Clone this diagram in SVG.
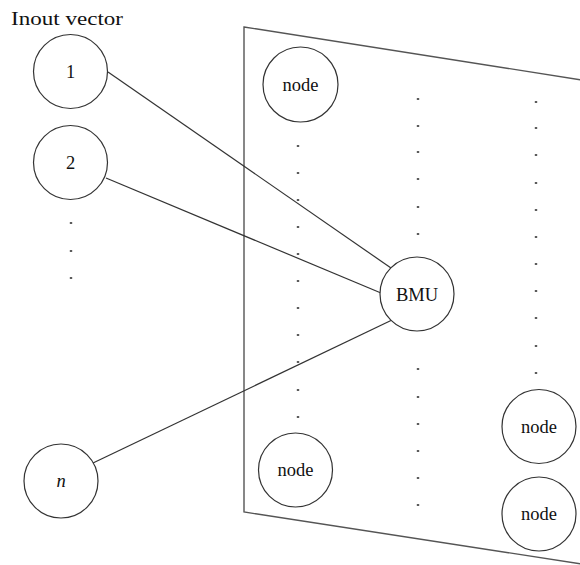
<svg xmlns="http://www.w3.org/2000/svg" width="580" height="565" viewBox="0 0 580 565">
  <style>
    .bg { fill: #ffffff; }
    .plane { fill: none; stroke: #555555; stroke-width: 1.4; }
    .link { stroke: #333333; stroke-width: 1.2; fill: none; }
    .node circle { fill: #ffffff; stroke: #333333; stroke-width: 1.2; }
    .lbl { font-family: "Liberation Serif", "Times New Roman", serif; font-size: 18.5px; fill: #111111; text-anchor: middle; }
    .title { font-family: "Liberation Serif", "Times New Roman", serif; font-size: 18px; fill: #111111; }
    .dot { fill: #333333; }
  </style>
  <defs>
    <rect id="d" class="dot" x="-1.2" y="-0.8" width="2.4" height="1.6"/>
  </defs>
  <rect class="bg" x="0" y="0" width="580" height="565"/>

  <!-- map plane (perspective sheet) -->
  <polygon class="plane" points="244,27 582,80 582,564 244,512"/>

  <text class="title" x="11" y="25" textLength="112" lengthAdjust="spacingAndGlyphs">Inout vector</text>

  <!-- ellipsis dots -->
  <g id="dots">
    <use href="#d" x="71" y="223"/><use href="#d" x="71" y="251"/><use href="#d" x="71" y="278"/>

    <use href="#d" x="298" y="146"/><use href="#d" x="298" y="173"/><use href="#d" x="298" y="200"/>
    <use href="#d" x="298" y="227"/><use href="#d" x="298" y="254"/><use href="#d" x="298" y="281"/>
    <use href="#d" x="298" y="308"/><use href="#d" x="298" y="335"/><use href="#d" x="298" y="362"/>
    <use href="#d" x="298" y="390"/><use href="#d" x="298" y="417"/>

    <use href="#d" x="418" y="99"/><use href="#d" x="418" y="126"/><use href="#d" x="418" y="152"/>
    <use href="#d" x="418" y="179"/><use href="#d" x="418" y="207"/><use href="#d" x="418" y="234"/>
    <use href="#d" x="418" y="369"/><use href="#d" x="418" y="397"/><use href="#d" x="418" y="424"/>
    <use href="#d" x="418" y="451"/><use href="#d" x="418" y="478"/><use href="#d" x="418" y="505"/>

    <use href="#d" x="536" y="102"/><use href="#d" x="536" y="128"/><use href="#d" x="536" y="155"/>
    <use href="#d" x="536" y="183"/><use href="#d" x="536" y="210"/><use href="#d" x="536" y="237"/>
    <use href="#d" x="536" y="264"/><use href="#d" x="536" y="291"/><use href="#d" x="536" y="318"/>
    <use href="#d" x="536" y="346"/><use href="#d" x="536" y="373"/>
  </g>

  <!-- connections from input vector to the best matching unit -->
  <g id="connectors">
    <line class="link" x1="108" y1="72" x2="391" y2="268"/>
    <line class="link" x1="106" y1="178" x2="381" y2="293"/>
    <line class="link" x1="93" y1="463" x2="392" y2="320"/>
  </g>

  <g id="in1" class="node"><circle cx="70.5" cy="71.5" r="37"/><text class="lbl" x="70.5" y="77.5">1</text></g>
  <g id="in2" class="node"><circle cx="70.5" cy="162.5" r="37"/><text class="lbl" x="70.5" y="168.5">2</text></g>
  <g id="inN" class="node"><circle cx="61" cy="481" r="37"/><text class="lbl" x="61" y="486.5" font-style="italic">n</text></g>

  <g id="bmu" class="node"><circle cx="417" cy="294" r="37"/><text class="lbl" x="417" y="300.5">BMU</text></g>

  <g id="node-tl" class="node"><circle cx="300.5" cy="84.5" r="37.5"/><text class="lbl" x="300.5" y="90.5">node</text></g>
  <g id="node-bl" class="node"><circle cx="295.5" cy="470" r="37"/><text class="lbl" x="295.5" y="476">node</text></g>
  <g id="node-r1" class="node"><circle cx="539" cy="426.5" r="37"/><text class="lbl" x="539" y="432.5">node</text></g>
  <g id="node-r2" class="node"><circle cx="539" cy="514" r="37"/><text class="lbl" x="539" y="520">node</text></g>
</svg>
